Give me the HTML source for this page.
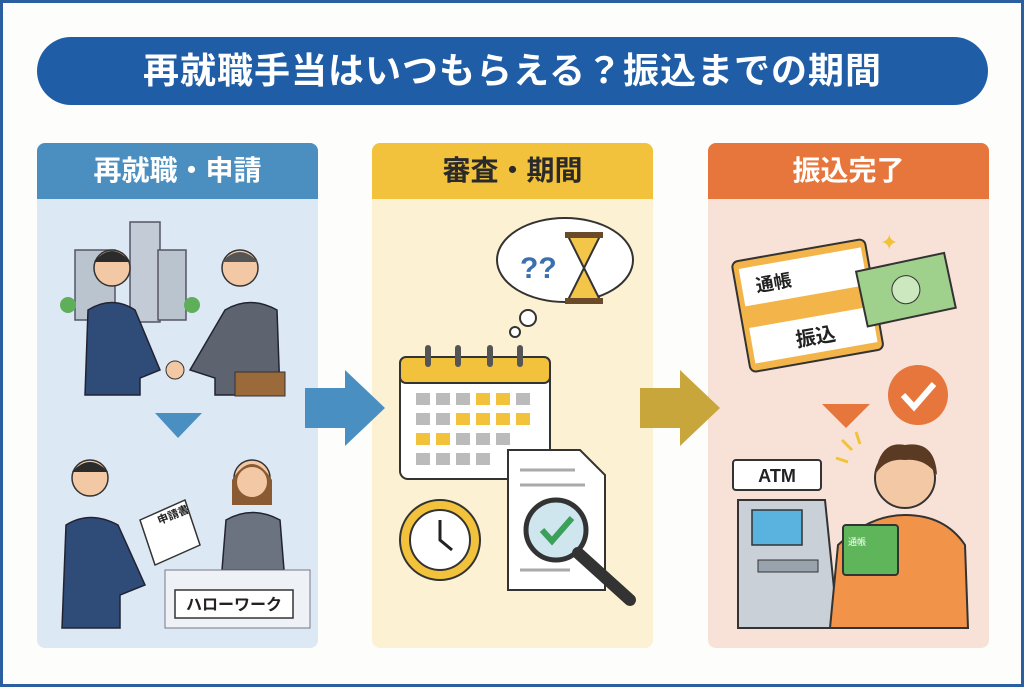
<!DOCTYPE html>
<html><head><meta charset="utf-8"><style>
html,body{margin:0;padding:0}
body{width:1024px;height:687px;background:#fff;position:relative;overflow:hidden;font-family:"Liberation Sans","Noto Sans CJK JP",sans-serif}
.frame{position:absolute;left:0;top:0;width:1018px;height:681px;border:3px solid #2a5fa0;background:#fdfdfb}
.title{position:absolute;left:37px;top:37px;width:951px;height:68px;border-radius:34px;background:#1f5ea6;color:#fff;font-size:36px;font-weight:bold;text-align:center;line-height:68px;letter-spacing:1px}
.panel{position:absolute;top:143px;width:281px;height:505px;border-radius:8px;overflow:hidden}
.hd{height:56px;line-height:56px;text-align:center;font-size:28px;font-weight:bold}
svg{position:absolute;left:0;top:0}
</style></head><body>
<div class="frame"></div>
<div class="title">再就職手当はいつもらえる？振込までの期間</div>

<div class="panel" style="left:37px;background:#dce9f4"><div class="hd" style="background:#4b8fc0;color:#fff">再就職・申請</div></div>
<div class="panel" style="left:372px;background:#fcf1d2"><div class="hd" style="background:#f2c23c;color:#2a2a2a">審査・期間</div></div>
<div class="panel" style="left:708px;background:#f8e2d8"><div class="hd" style="background:#e7763c;color:#fff">振込完了</div></div>

<svg width="1024" height="687" viewBox="0 0 1024 687">
<!-- arrows -->
<polygon points="305,388 345,388 345,370 385,408 345,446 345,428 305,428" fill="#4a8fc2"/>
<polygon points="640,388 680,388 680,370 720,408 680,446 680,428 640,428" fill="#c9a63c"/>

<!-- left: buildings -->
<rect x="75" y="250" width="40" height="70" fill="#b9c4cf" stroke="#556" stroke-width="1.5"/>
<rect x="130" y="222" width="30" height="100" fill="#c3ccd6" stroke="#556" stroke-width="1.5"/>
<rect x="158" y="250" width="28" height="70" fill="#b9c4cf" stroke="#556" stroke-width="1.5"/>
<circle cx="68" cy="305" r="8" fill="#5fae5a"/><circle cx="192" cy="305" r="8" fill="#5fae5a"/>
<!-- people handshake -->
<circle cx="112" cy="268" r="18" fill="#f3c9a5" stroke="#333" stroke-width="1.5"/>
<path d="M94 262 Q112 240 130 262 Z" fill="#2b2b2b"/>
<path d="M85 395 L88 310 Q112 295 135 310 L160 370 L140 378 L140 395 Z" fill="#2f4b78" stroke="#223" stroke-width="1.5"/>
<circle cx="240" cy="268" r="18" fill="#f3c9a5" stroke="#333" stroke-width="1.5"/>
<path d="M222 262 Q240 242 258 262 Z" fill="#555"/>
<path d="M280 395 L277 310 Q250 295 225 310 L190 370 L215 378 L215 395 Z" fill="#5d6470" stroke="#223" stroke-width="1.5"/>
<rect x="235" y="372" width="50" height="24" fill="#9a6a3a" stroke="#333"/>
<circle cx="175" cy="370" r="9" fill="#f3c9a5" stroke="#333"/>
<polygon points="155,413 202,413 178,438" fill="#4a8fc2"/>
<!-- applicant -->
<circle cx="90" cy="478" r="18" fill="#f3c9a5" stroke="#333" stroke-width="1.5"/>
<path d="M72 472 Q90 452 108 472 Z" fill="#2b2b2b"/>
<path d="M62 628 L66 525 Q90 510 118 525 L145 585 L120 595 L120 628 Z" fill="#2f4b78" stroke="#223" stroke-width="1.5"/>
<polygon points="140,520 185,500 200,545 155,565" fill="#fff" stroke="#333" stroke-width="1.5"/>
<text x="158" y="522" font-size="11" font-weight="bold" transform="rotate(-22 165 520)" fill="#222">申請書</text>
<circle cx="252" cy="478" r="18" fill="#f3c9a5" stroke="#333" stroke-width="1.5"/>
<path d="M232 480 Q252 448 272 480 L272 505 L232 505 Z" fill="#8a5a32"/>
<circle cx="252" cy="482" r="15" fill="#f3c9a5"/>
<path d="M222 570 L226 520 Q252 505 280 520 L284 570 Z" fill="#6c7380" stroke="#223" stroke-width="1.5"/>
<rect x="165" y="570" width="145" height="58" fill="#eef2f6" stroke="#778" stroke-width="1"/>
<rect x="175" y="590" width="118" height="28" fill="#fff" stroke="#333" stroke-width="1.5"/>
<text x="234" y="610" font-size="16" font-weight="bold" text-anchor="middle" fill="#222">ハローワーク</text>

<!-- middle: thought bubble -->
<ellipse cx="565" cy="260" rx="68" ry="42" fill="#fff" stroke="#333" stroke-width="2"/>
<circle cx="528" cy="318" r="8" fill="#fff" stroke="#333" stroke-width="2"/>
<circle cx="515" cy="332" r="5" fill="#fff" stroke="#333" stroke-width="2"/>
<text x="520" y="278" font-size="30" font-weight="bold" fill="#3a6fb0">??</text>
<path d="M568 236 L600 236 L584 268 L600 300 L568 300 L584 268 Z" fill="#f3c548" stroke="#333" stroke-width="2"/>
<rect x="565" y="232" width="38" height="6" fill="#6b4a2a"/><rect x="565" y="298" width="38" height="6" fill="#6b4a2a"/>
<!-- calendar -->
<rect x="400" y="357" width="150" height="122" rx="8" fill="#fff" stroke="#333" stroke-width="2"/>
<rect x="400" y="357" width="150" height="26" rx="6" fill="#f2c23c" stroke="#333" stroke-width="2"/>
<g fill="#555"><rect x="425" y="345" width="6" height="22" rx="3"/><rect x="455" y="345" width="6" height="22" rx="3"/><rect x="487" y="345" width="6" height="22" rx="3"/><rect x="517" y="345" width="6" height="22" rx="3"/></g>
<g fill="#bbb">
<rect x="416" y="393" width="14" height="12"/><rect x="436" y="393" width="14" height="12"/><rect x="456" y="393" width="14" height="12"/><rect x="476" y="393" width="14" height="12" fill="#f2c23c"/><rect x="496" y="393" width="14" height="12" fill="#f2c23c"/><rect x="516" y="393" width="14" height="12"/>
<rect x="416" y="413" width="14" height="12"/><rect x="436" y="413" width="14" height="12"/><rect x="456" y="413" width="14" height="12" fill="#f2c23c"/><rect x="476" y="413" width="14" height="12" fill="#f2c23c"/><rect x="496" y="413" width="14" height="12" fill="#f2c23c"/><rect x="516" y="413" width="14" height="12" fill="#f2c23c"/>
<rect x="416" y="433" width="14" height="12" fill="#f2c23c"/><rect x="436" y="433" width="14" height="12" fill="#f2c23c"/><rect x="456" y="433" width="14" height="12"/><rect x="476" y="433" width="14" height="12"/><rect x="496" y="433" width="14" height="12"/>
<rect x="416" y="453" width="14" height="12"/><rect x="436" y="453" width="14" height="12"/><rect x="456" y="453" width="14" height="12"/><rect x="476" y="453" width="14" height="12"/>
</g>
<!-- clock -->
<circle cx="440" cy="540" r="40" fill="#f2c23c" stroke="#333" stroke-width="2"/>
<circle cx="440" cy="540" r="30" fill="#fff" stroke="#333" stroke-width="2"/>
<path d="M440 520 L440 540 L452 550" stroke="#222" stroke-width="3" fill="none"/>
<!-- document + magnifier -->
<path d="M508 450 L580 450 L605 475 L605 590 L508 590 Z" fill="#fff" stroke="#333" stroke-width="2"/>
<g stroke="#aaa" stroke-width="3"><line x1="520" y1="470" x2="575" y2="470"/><line x1="520" y1="485" x2="585" y2="485"/><line x1="520" y1="570" x2="570" y2="570"/></g>
<circle cx="556" cy="530" r="30" fill="#cfe6ef" stroke="#333" stroke-width="5"/>
<path d="M542 530 L552 541 L572 518" stroke="#3aa05a" stroke-width="6" fill="none"/>
<line x1="578" y1="553" x2="630" y2="600" stroke="#333" stroke-width="12" stroke-linecap="round"/>

<!-- right: passbook -->
<g transform="rotate(-10 805 305)">
<rect x="740" y="250" width="135" height="112" rx="6" fill="#f3b54a" stroke="#333" stroke-width="2"/>
<rect x="746" y="258" width="124" height="38" fill="#fff"/>
<rect x="746" y="318" width="124" height="36" fill="#fff"/>
<text x="760" y="284" font-size="18" font-weight="bold" fill="#222">通帳</text>
<text x="790" y="345" font-size="20" font-weight="bold" fill="#222">振込</text>
</g>
<g transform="rotate(-12 905 295)">
<rect x="862" y="262" width="90" height="56" fill="#9fd08c" stroke="#333" stroke-width="2"/>
<ellipse cx="907" cy="290" rx="14" ry="14" fill="#cbe8bf" stroke="#333"/>
</g>
<text x="880" y="250" font-size="22" fill="#f2c23c">✦</text>
<circle cx="918" cy="395" r="30" fill="#e7763c"/>
<path d="M903 395 L914 407 L934 384" stroke="#fff" stroke-width="6" fill="none"/>
<polygon points="822,404 870,404 846,428" fill="#e7763c"/>
<!-- ATM -->
<rect x="733" y="460" width="88" height="30" rx="3" fill="#fff" stroke="#333" stroke-width="2"/>
<text x="777" y="482" font-size="18" font-weight="bold" text-anchor="middle" fill="#222">ATM</text>
<path d="M738 500 L825 500 L838 628 L738 628 Z" fill="#c9d0d8" stroke="#333" stroke-width="2"/>
<rect x="752" y="510" width="50" height="35" fill="#5ab3de" stroke="#333" stroke-width="1.5"/>
<rect x="758" y="560" width="60" height="12" fill="#99a3ad" stroke="#333"/>
<!-- person -->
<circle cx="905" cy="478" r="30" fill="#f3c9a5" stroke="#333" stroke-width="2"/>
<path d="M875 475 Q880 440 905 445 Q935 440 937 475 Q925 458 905 460 Q885 458 875 475 Z" fill="#5a3a22"/>
<path d="M830 628 L838 545 Q870 515 905 515 Q945 515 965 545 L968 628 Z" fill="#f2934a" stroke="#333" stroke-width="2"/>
<rect x="843" y="525" width="55" height="50" rx="3" fill="#5fb65a" stroke="#333" stroke-width="2"/>
<text x="848" y="545" font-size="9" fill="#fff">通帳</text>
<g stroke="#f2c23c" stroke-width="3"><line x1="842" y1="440" x2="852" y2="450"/><line x1="836" y1="458" x2="848" y2="462"/><line x1="856" y1="432" x2="860" y2="444"/></g>
</svg>
</body></html>
